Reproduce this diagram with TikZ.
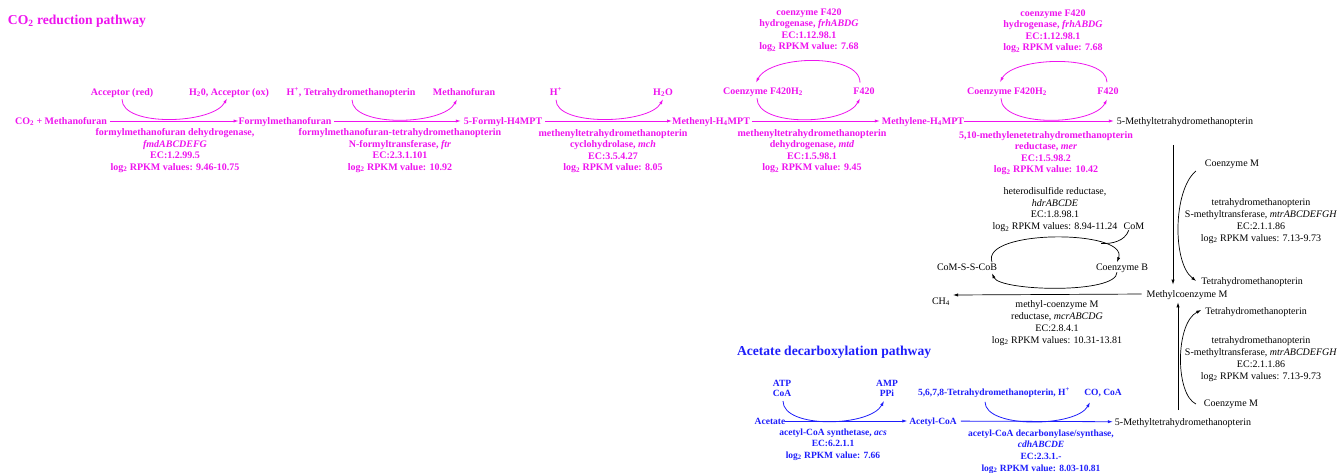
\documentclass[tikz,border=0pt]{standalone}
\usepackage{fontspec}
\setmainfont{Liberation Serif}
\usetikzlibrary{arrows.meta}
\definecolor{mag}{RGB}{238,20,238}
\definecolor{blu}{RGB}{30,30,250}
\begin{document}
\begin{tikzpicture}[x=1pt,y=-1pt,
  every node/.style={inner sep=0pt, outer sep=0pt},
  mt/.style={text=mag, font=\fontsize{10}{11.5}\selectfont\bfseries},
  bt/.style={text=black, font=\fontsize{10}{12}\selectfont},
  bt2/.style={text=black, font=\fontsize{10}{11.7}\selectfont},
  bl/.style={text=blu, font=\fontsize{9.5}{11.8}\selectfont\bfseries},
  bls/.style={text=blu, font=\fontsize{9.5}{10.2}\selectfont\bfseries},
  one/.style={text height=6.6pt, text depth=0pt},
  blk/.style={align=center, anchor=north},
  ttl/.style={font=\fontsize{13.6}{16}\selectfont\bfseries, anchor=west, text height=9pt, text depth=0pt},
  arr/.style={-{Latex[length=5pt,width=3.2pt]}, line width=0.8pt},
  marr/.style={arr, draw=mag},
  karr/.style={arr, draw=black, line width=0.7pt},
  barr/.style={arr, draw=blu}
]
\useasboundingbox (0,0) rectangle (1338,473);

% titles
\node[ttl, text=mag] (t1) at (8,20) {CO\textsubscript{2} reduction pathway};
\node[ttl, text=blu] (t2) at (737,351) {Acetate decarboxylation pathway};

% main row
\node[mt,one] (co2) at (61,121) {CO\textsubscript{2} + Methanofuran};
\node[mt,one] (fmf) at (285,121) {Formylmethanofuran};
\node[mt,one] (f4) at (503,121) {5-Formyl-H4MPT};
\node[mt,one] (mnyl) at (711,121) {Methenyl-H\textsubscript{4}MPT};
\node[mt,one] (mlene) at (923,121) {Methylene-H\textsubscript{4}MPT};
\node[bt,one] (m5) at (1185,121) {5-Methyltetrahydromethanopterin};

\draw[marr, shorten <=3pt] (co2) -- (fmf);
\draw[marr, shorten <=3pt, shorten >=3pt] (fmf) -- (f4);
\draw[marr, shorten <=3pt] (f4) -- (mnyl);
\draw[marr, shorten <=2pt, shorten >=2pt] (mnyl) -- (mlene);
\draw[marr, shorten <=0pt, shorten >=3pt] (mlene) -- (m5);

% reaction 1
\node[mt,one] (acr) at (122,92) {Acceptor (red)};
\node[mt,one] (aco) at (229,92) {H\textsubscript{2}0, Acceptor (ox)};
\draw[marr] ([yshift=-4pt]acr.south) .. controls +(0,28) and +(-14,26) .. ([xshift=-2pt,yshift=-3pt]aco.south);
\node[mt,blk] (l1) at (175,128.5) {formylmethanofuran dehydrogenase,\\\textit{fmdABCDEFG}\\EC:1.2.99.5\\log\textsubscript{2} RPKM values: 9.46-10.75};

% reaction 2
\node[mt,one] (ht) at (351,92) {H\textsuperscript{+}, Tetrahydromethanopterin};
\node[mt,one] (mf) at (464,92) {Methanofuran};
\draw[marr] ([xshift=1pt,yshift=-4.5pt]ht.south) .. controls +(0,28) and +(-14,26) .. ([xshift=-7pt,yshift=-4pt]mf.south);
\node[mt,blk] (l2) at (400,128.5) {formylmethanofuran-tetrahydromethanopterin\\N-formyltransferase, \textit{ftr}\\EC:2.3.1.101\\log\textsubscript{2} RPKM value: 10.92};

% reaction 3
\node[mt,one] (hp) at (556,92) {H\textsuperscript{+}};
\node[mt,one] (h2o) at (663,92) {H\textsubscript{2}O};
\draw[marr] ([yshift=-4.5pt]hp.south) .. controls +(0,27) and +(-14,25) .. ([yshift=-4pt]h2o.south);
\node[mt,blk] (l3) at (613,129.5) {methenyltetrahydromethanopterin\\cyclohydrolase, \textit{mch}\\EC:3.5.4.27\\log\textsubscript{2} RPKM value: 8.05};

% reaction 4
\node[mt,one] (cf1) at (763,91) {Coenzyme F420H\textsubscript{2}};
\node[mt,one] (f1) at (864,91) {F420};
\draw[marr] ([xshift=-6pt,yshift=-4pt]cf1.south) .. controls +(0,29) and +(-14,27) .. ([xshift=-4pt,yshift=-4pt]f1.south);
\draw[marr] ([xshift=-4pt,yshift=5pt]f1.north) .. controls +(0,-30) and +(14,-28) .. ([xshift=-7pt,yshift=5pt]cf1.north);
\node[mt,blk] (t4) at (809,8.5) {coenzyme F420\\hydrogenase, \textit{frhABDG}\\EC:1.12.98.1\\log\textsubscript{2} RPKM value: 7.68};
\node[mt,blk] (l4) at (812,129.5) {methenyltetrahydromethanopterin\\dehydrogenase, \textit{mtd}\\EC:1.5.98.1\\log\textsubscript{2} RPKM value: 9.45};

% reaction 5
\node[mt,one] (cf2) at (1007,91) {Coenzyme F420H\textsubscript{2}};
\node[mt,one] (f2) at (1108,91) {F420};
\draw[marr] ([xshift=-6pt,yshift=-4pt]cf2.south) .. controls +(0,29) and +(-14,27) .. ([xshift=-1pt,yshift=-5pt]f2.south);
\draw[marr] ([xshift=-1pt,yshift=5.5pt]f2.north) .. controls +(0,-28) and +(14,-26) .. ([xshift=-7pt,yshift=5.5pt]cf2.north);
\node[mt,blk] (t5) at (1053,9.5) {coenzyme F420\\hydrogenase, \textit{frhABDG}\\EC:1.12.98.1\\log\textsubscript{2} RPKM value: 7.68};
\node[mt,blk] (l5) at (1046,131.5) {5,10-methylenetetrahydromethanopterin\\reductase, \textit{mer}\\EC:1.5.98.2\\log\textsubscript{2} RPKM value: 10.42};

% right black part
\node[bt,one] (cm1) at (1232,163) {Coenzyme M};
\node[bt,one] (thm1) at (1252,281) {Tetrahydromethanopterin};
\node[bt,blk] (mtr1) at (1261,198.5) {tetrahydromethanopterin\\S-methyltransferase, \textit{mtrABCDEFGH}\\EC:2.1.1.86\\log\textsubscript{2} RPKM values: 7.13-9.73};
\node[bt,one] (mcm) at (1187,294) {Methylcoenzyme M};
\node[bt,one] (thm2) at (1256,311) {Tetrahydromethanopterin};
\node[bt,blk] (mtr2) at (1261,336.5) {tetrahydromethanopterin\\S-methyltransferase, \textit{mtrABCDEFGH}\\EC:2.1.1.86\\log\textsubscript{2} RPKM values: 7.13-9.73};
\node[bt,one] (cm2) at (1231,403) {Coenzyme M};
\node[bt,one] (m5b) at (1183,422) {5-Methyltetrahydromethanopterin};

\coordinate (vtop) at (1173,145);
\coordinate (vbot) at (1178,410);
\draw[karr, shorten >=6pt] (vtop) -- (vtop |- mcm.north);
\draw[karr, shorten >=5pt] (vbot) -- (vbot |- mcm.south);
\draw[karr] ([xshift=-9pt,yshift=-8pt]cm1.west) .. controls +(-23,19) and +(-24,-18) .. ([xshift=-5pt]thm1.west);
\draw[karr] ([xshift=-8pt,yshift=-1pt]cm2.west) .. controls +(-21,-10) and +(-26,13) .. ([xshift=-4pt,yshift=1pt]thm2.west);

% heterodisulfide cycle
\node[bt2,blk] (hdr) at (1055,187.5) {heterodisulfide reductase,\\\textit{hdrABCDE}\\EC:1.8.98.1\\log\textsubscript{2} RPKM values: 8.94-11.24};
\node[bt,one] (com) at (1134,226) {CoM};
\node[bt,one] (cob) at (1122,267) {Coenzyme B};
\node[bt,one] (cmsb) at (967,267) {CoM-S-S-CoB};
\node[bt,one] (ch4) at (941,301) {CH\textsubscript{4}};
\coordinate (ch4tip) at (953,295);
\coordinate (join) at (1101,243.5);
\draw[karr] ([xshift=25pt,yshift=1.5pt]cmsb.north) .. controls +(-12,-33) and +(12,-33) .. ([xshift=-5pt,yshift=1.5pt]cob.north);
\draw[karr] ([xshift=-5pt,yshift=-2pt]cob.south) .. controls +(0,22) and +(8,18) .. ([xshift=25pt,yshift=-3pt]cmsb.south);
\draw[line width=0.7pt] ([xshift=5pt,yshift=-1pt]com.south west) .. controls +(-4,11) and +(11,0.5) .. (join);
\draw[karr, shorten <=5pt] (mcm.west) -- (ch4tip);
\node[bt,blk] (mcr) at (1057,300.5) {methyl-coenzyme M\\reductase, \textit{mcrABCDG}\\EC:2.8.4.1\\log\textsubscript{2} RPKM values: 10.31-13.81};

% acetate pathway
\node[bls,blk] (atp) at (782,380.5) {ATP\\CoA};
\node[bls,blk] (amp) at (887,380.5) {AMP\\PPi};
\node[bl,one] (ac) at (770,421) {Acetate};
\node[bl,one] (acoa) at (933,421) {Acetyl-CoA};
\draw[barr, shorten >=2pt] (ac) -- (acoa);
\draw[barr] ([xshift=1pt,yshift=-4pt]atp.south) .. controls +(0,28) and +(-14,26) .. ([xshift=-3pt,yshift=-4pt]amp.south);
\node[bl,blk] (l6) at (833,428.5) {acetyl-CoA synthetase, \textit{acs}\\EC:6.2.1.1\\log\textsubscript{2} RPKM value: 7.66};

\node[bl,one] (thh) at (994,392) {5,6,7,8-Tetrahydromethanopterin, H\textsuperscript{+}};
\node[bl,one] (coc) at (1103,392) {CO, CoA};
\draw[barr] ([xshift=-9pt,yshift=-6.5pt]thh.south) .. controls +(0,27) and +(-14,25) .. ([xshift=-13pt,yshift=-7pt]coc.south);
\draw[barr, shorten <=4pt, shorten >=2pt] (acoa) -- (m5b);
\node[bl,blk] (l7) at (1041,429.5) {acetyl-CoA decarbonylase/synthase,\\\textit{cdhABCDE}\\EC:2.3.1.-\\log\textsubscript{2} RPKM value: 8.03-10.81};
\end{tikzpicture}
\end{document}
